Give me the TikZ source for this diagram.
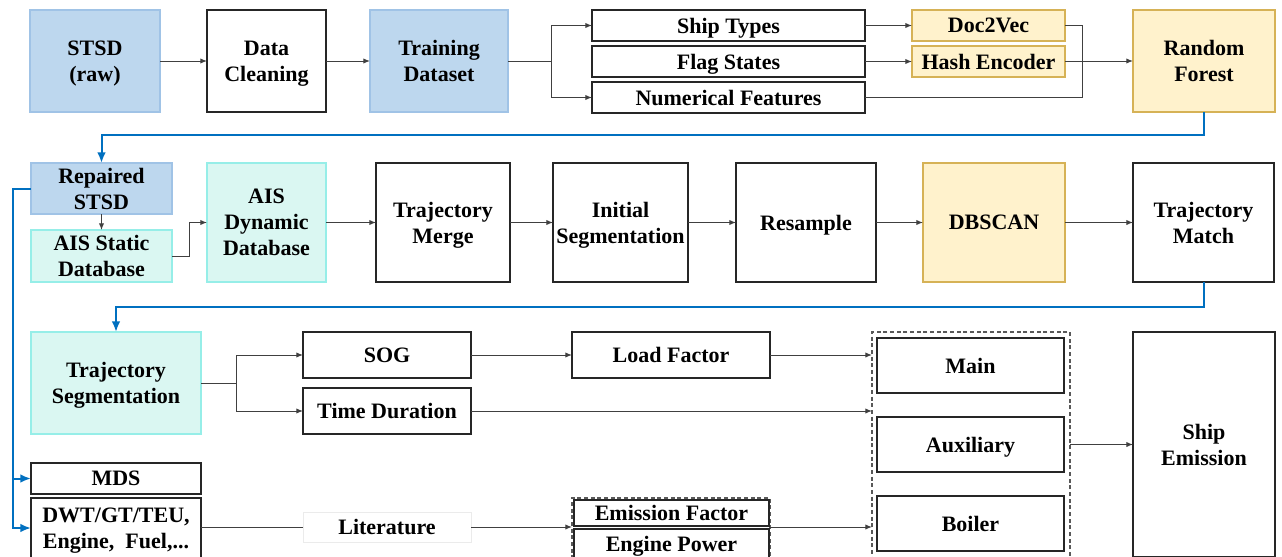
\documentclass[tikz,border=0pt]{standalone}
\usepackage{fontspec}
\setmainfont{Liberation Serif}
\usetikzlibrary{arrows.meta,shadows}
\definecolor{bfill}{RGB}{189,215,238}
\definecolor{bdraw}{RGB}{160,195,230}
\definecolor{cfill}{RGB}{218,247,242}
\definecolor{cdraw}{RGB}{150,238,232}
\definecolor{yfill}{RGB}{255,242,204}
\definecolor{ydraw}{RGB}{214,178,86}
\definecolor{conn}{RGB}{64,64,64}
\definecolor{bluel}{RGB}{0,112,192}
\tikzset{
  base/.style={rectangle, inner sep=0pt, outer sep=0pt, align=center, text depth=0pt,
    font=\bfseries\fontsize{16.5}{19.5}\selectfont,
    drop shadow={opacity=0.18, shadow xshift=0.8pt, shadow yshift=-0.8pt}},
  wbox/.style={base, draw=black!85, line width=0.9pt, fill=white},
  bbox/.style={base, draw=bdraw, line width=0.9pt, fill=bfill},
  cbox/.style={base, draw=cdraw, line width=0.9pt, fill=cfill},
  ybox/.style={base, draw=ydraw, line width=0.9pt, fill=yfill},
  litbox/.style={base, draw=black!8, line width=0.6pt, fill=white},
  grpbox/.style={rectangle, inner sep=0pt, outer sep=0pt, draw=black!65, densely dashed, line width=0.9pt},
  ln/.style={draw=conn, line width=0.75pt},
  arr/.style={ln, -{Latex[length=5pt,width=4pt]}},
  bl/.style={draw=bluel, line width=1.5pt},
  barr/.style={bl, -{Latex[length=8pt,width=6.5pt]}},
}
\newcommand\mybox[7]{\node[#1, minimum width={(#4-#3)*0.75pt}, minimum height={(#6-#5)*0.75pt}] (#2) at ({(#3+#4)/2},{(#5+#6)/2}) {#7};}
\begin{document}
\begin{tikzpicture}[x=0.75pt,y=-0.75pt]
\useasboundingbox (0,0) rectangle (1282,557);
\clip (0,0) rectangle (1282,557);
% Row 1
\mybox{bbox}{stsd}{30}{160}{10}{112}{STSD\\(raw)}
\mybox{wbox}{clean}{207}{326}{10}{112}{Data\\Cleaning}
\mybox{bbox}{train}{370}{508}{10}{112}{Training\\Dataset}
\mybox{wbox}{ship}{592}{865}{10}{41}{Ship Types}
\mybox{wbox}{flag}{592}{865}{46}{77}{Flag States}
\mybox{wbox}{num}{592}{865}{82}{113}{Numerical Features}
\mybox{ybox}{doc}{912}{1065}{10}{41}{Doc2Vec}
\mybox{ybox}{hash}{912}{1065}{46}{77}{Hash Encoder}
\mybox{ybox}{rf}{1133}{1275}{10}{112}{Random\\Forest}
% Row 2
\mybox{bbox}{rep}{31}{172}{163}{214}{Repaired\\STSD}
\mybox{cbox}{stat}{31}{172}{230}{282}{AIS Static\\Database}
\mybox{cbox}{dyn}{207}{326}{163}{282}{AIS\\Dynamic\\Database}
\mybox{wbox}{merge}{376}{510}{163}{282}{Trajectory\\Merge}
\mybox{wbox}{init}{553}{688}{163}{282}{Initial\\Segmentation}
\mybox{wbox}{res}{736}{876}{163}{282}{Resample}
\mybox{ybox}{dbs}{923}{1065}{163}{282}{DBSCAN}
\mybox{wbox}{match}{1133}{1274}{163}{282}{Trajectory\\Match}
% Row 3
\mybox{cbox}{tseg}{31}{201}{332}{434}{Trajectory\\Segmentation}
\mybox{wbox}{sog}{303}{471}{332}{378}{SOG}
\mybox{wbox}{tdur}{303}{471}{388}{434}{Time Duration}
\mybox{wbox}{lf}{572}{770}{332}{378}{Load Factor}
\mybox{grpbox}{cont}{872}{1070}{332}{558}{}
\mybox{wbox}{main}{877}{1064}{338}{393}{Main}
\mybox{wbox}{aux}{877}{1064}{417}{472}{Auxiliary}
\mybox{wbox}{boil}{877}{1064}{496}{551}{Boiler}
\mybox{wbox}{emis}{1133}{1275}{332}{557}{Ship\\Emission}
% Row 4
\mybox{wbox}{mds}{31}{201}{463}{494}{MDS}
\mybox{wbox}{dwt}{31}{201}{498}{558}{DWT/GT/TEU,\\Engine,~~Fuel,...}
\mybox{litbox}{lit}{303}{471}{512}{542}{Literature}
\mybox{grpbox}{grp}{572}{770}{498}{558}{}
\mybox{wbox}{ef}{574}{769}{500}{526}{Emission Factor}
\mybox{wbox}{ep}{574}{769}{529}{558}{Engine Power}
% coordinates
\coordinate (b1) at (551,61);
\coordinate (m1) at (1082,61);
\coordinate (c1) at (0,135);
\coordinate (c2) at (0,307);
\coordinate (c3) at (13,0);
\coordinate (b3) at (236,383);
% Row 1 connectors
\draw[arr] (stsd) -- (clean);
\draw[arr] (clean) -- (train);
\draw[ln] (train.east |- b1) -- (b1);
\draw[arr] (b1) |- (ship.west);
\draw[arr] (b1) |- (num.west);
\draw[arr] (ship) -- (doc);
\draw[arr] (flag) -- (hash);
\draw[ln] (doc.east) -| (m1);
\draw[ln] (num.east) -| (m1);
\draw[arr] (hash.east |- m1) -- (rf.west |- m1);
% to row 2
\draw[barr] (rf.south) -- (rf.south |- c1) -| (rep.north);
\draw[arr] (rep) -- (stat);
\draw[arr] (stat.east) -- ++(17,0) |- (dyn.west);
\draw[arr] (dyn) -- (merge);
\draw[arr] (merge) -- (init);
\draw[arr] (init) -- (res);
\draw[arr] (res) -- (dbs);
\draw[arr] (dbs) -- (match);
% to row 3
\draw[barr] (match.south) -- (match.south |- c2) -| (tseg.north);
\draw[ln] (tseg.east |- b3) -- (b3);
\draw[arr] (b3) |- (sog.west);
\draw[arr] (b3) |- (tdur.west);
\draw[arr] (sog) -- (lf);
\draw[arr] (lf.east) -- (lf.east -| cont.west);
\draw[arr] (tdur.east) -- (tdur.east -| cont.west);
\draw[arr] (cont.east |- emis.west) -- (emis.west);
% left blue
\draw[barr] (rep.west) -- (rep.west -| c3) |- (dwt.west);
\draw[barr] (c3 |- mds.west) -- (mds.west);
% row 4
\draw[ln] (dwt.east |- lit.west) -- (lit.west);
\draw[arr] (lit.east) -- (lit.east -| grp.west);
\draw[arr] (grp.east |- lit.east) -- (lit.east -| cont.west);
\end{tikzpicture}
\end{document}
